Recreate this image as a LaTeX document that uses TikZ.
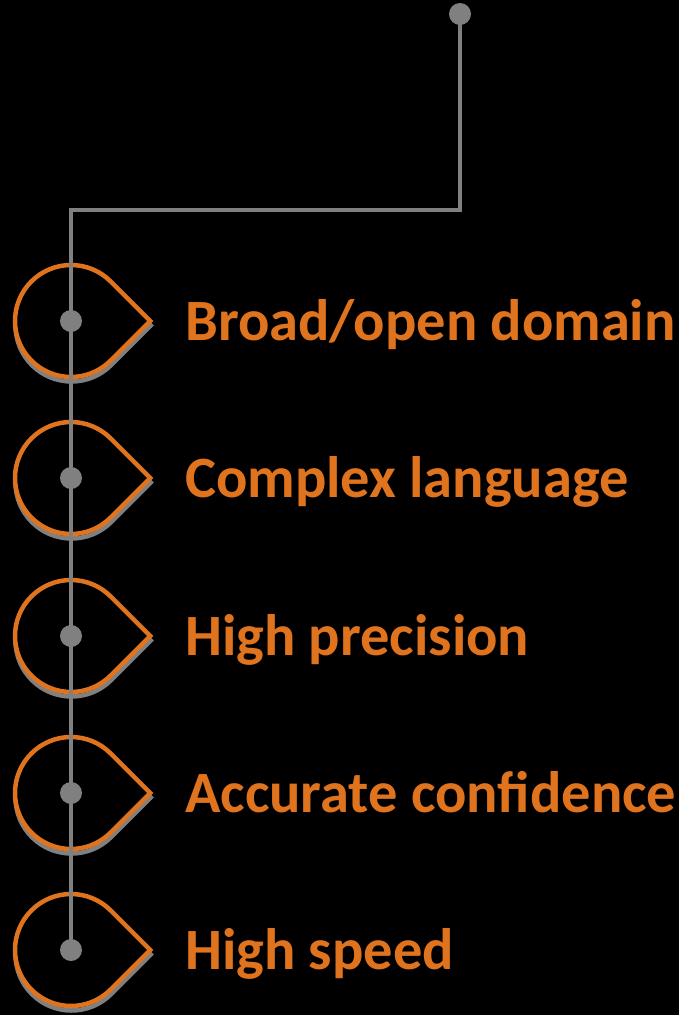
\documentclass[tikz,border=0pt]{standalone}
\usepackage{fontspec}
\setmainfont{Carlito}
\definecolor{tdorange}{RGB}{224,116,30}
\definecolor{tdgray}{RGB}{128,128,128}
\begin{document}
\begin{tikzpicture}[x=1pt,y=-1pt,
  dropline/.style={draw=tdorange,line width=4.5pt,fill=black,line join=miter},
  dropshadow/.style={draw=tdgray,line width=4.5pt,line join=miter},
  trunk/.style={draw=tdgray,line width=4pt,line join=miter},
  dotnode/.style={circle,fill=tdgray,inner sep=0pt,minimum size=22pt},
  label/.style={anchor=base west,text=tdorange,font=\fontsize{58.5}{60}\selectfont\bfseries,inner sep=0pt}]
\fill[black] (0,0) rectangle (679,1015);
\useasboundingbox (0,0) rectangle (679,1015);
% teardrops
\foreach \cy in {321,478,636,793,950}{
  \path[dropshadow] ([shift={(0.5,4.5)}]71+79.2,\cy) -- ++(-39.6,-39.6) arc[start angle=-45,end angle=-315,radius=56] -- cycle;
  \path[dropline] (71+79.2,\cy) -- ++(-39.6,-39.6) arc[start angle=-45,end angle=-315,radius=56] -- cycle;
}
% dots
\node[dotnode] (top) at (460,14) {};
\node[dotnode] (d1) at (71,321) {};
\node[dotnode] (d2) at (71,478) {};
\node[dotnode] (d3) at (71,636) {};
\node[dotnode] (d4) at (71,793) {};
\node[dotnode] (d5) at (71,950) {};
\coordinate (bend) at (71,209.5);
\draw[trunk] (top.center) |- (bend) -- (d5.center);
% labels
\node[label] (t1) at (185,340) {Broad/open domain};
\node[label] (t2) at (185,497) {Complex language};
\node[label] (t3) at (185,655) {High precision};
\node[label] (t4) at (185,812) {Accurate confidence};
\node[label] (t5) at (185,969) {High speed};
\end{tikzpicture}
\end{document}
